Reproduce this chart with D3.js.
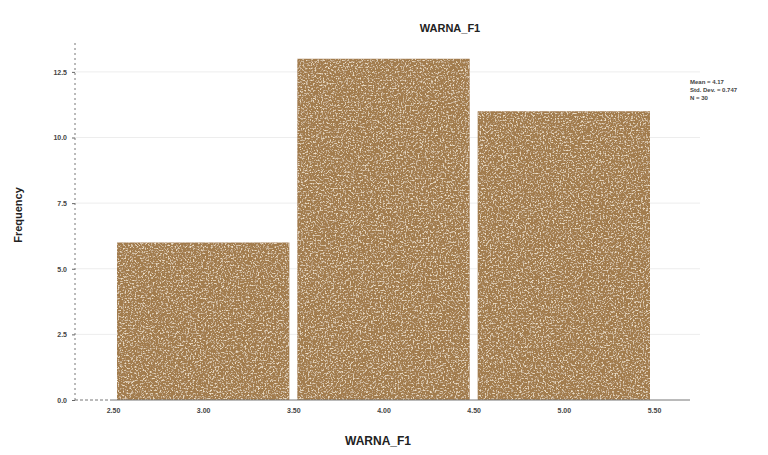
<!DOCTYPE html>
<html>
<head>
<meta charset="utf-8">
<script src="https://cdn.jsdelivr.net/npm/d3@7"></script>
<style>
  html, body { margin: 0; padding: 0; background: #fff; }
  svg { display: block; }
  text { font-family: "Liberation Sans", Arial, sans-serif; }
</style>
</head>
<body>
<svg id="chart" width="768" height="455"></svg>
<script>
// ---- data ----
const binStarts = [2.5, 3.5, 4.5];
const binEnds = [3.5, 4.5, 5.5];
const frequencies = [6, 13, 11];
const xTickValues = [2.5, 3.0, 3.5, 4.0, 4.5, 5.0, 5.5];
const yTickValues = [0, 2.5, 5, 7.5, 10, 12.5];
const legendLines = ["Mean = 4.17", "Std. Dev. = 0.747", "N = 30"];
const chartTitle = "WARNA_F1";
const xTitle = "WARNA_F1";
const yTitle = "Frequency";

const svg = d3.select("#chart");

const x = d3.scaleLinear().domain([2.5, 5.5]).range([113, 654]);
const y = d3.scaleLinear().domain([0, 13.6]).range([400, 43]);
const axisX = 75;

// speckled texture for the bars (style only)
const defs = svg.append("defs");
const f = defs.append("filter").attr("id", "speckle").attr("x", 0).attr("y", 0).attr("width", 1).attr("height", 1);
f.append("feTurbulence").attr("type", "fractalNoise").attr("baseFrequency", "0.6").attr("numOctaves", 2).attr("seed", 5).attr("result", "noise");
f.append("feColorMatrix").attr("in", "noise").attr("type", "matrix")
  .attr("values", "0 0 0 0 0.85  0 0 0 0 0.74  0 0 0 0 0.58  4 0 0 0 -2.05").attr("result", "spots");
f.append("feComposite").attr("in", "spots").attr("in2", "SourceGraphic").attr("operator", "in").attr("result", "sp");
f.append("feMerge").call(m => { m.append("feMergeNode").attr("in", "SourceGraphic"); m.append("feMergeNode").attr("in", "sp"); });

// gridlines
svg.append("g").selectAll("line").data(yTickValues.filter(d => d > 0)).join("line")
  .attr("x1", axisX).attr("x2", 700)
  .attr("y1", d => y(d)).attr("y2", d => y(d))
  .attr("stroke", "#ededed").attr("stroke-width", 1);

// bars
const bins = frequencies.map((v, i) => ({ x0: binStarts[i], x1: binEnds[i], v }));
svg.append("g").selectAll("rect").data(bins).join("rect")
  .attr("x", d => x(d.x0) + 4)
  .attr("width", d => x(d.x1) - x(d.x0) - 8)
  .attr("y", d => y(d.v))
  .attr("height", d => y(0) - y(d.v))
  .attr("fill", "#a27b4e")
  .attr("filter", "url(#speckle)");

// y axis
const yAxis = d3.axisLeft(y).tickValues(yTickValues).tickSize(3).tickFormat(d3.format(".1f"));
const gy = svg.append("g").attr("transform", `translate(${axisX},0)`).call(yAxis);
gy.select(".domain").remove();
gy.append("line").attr("x1", 0).attr("x2", 0).attr("y1", 43).attr("y2", 400)
  .attr("stroke", "#777").attr("stroke-dasharray", "2,3");
gy.selectAll(".tick line").attr("stroke", "#666");
gy.selectAll(".tick text").attr("font-size", 7).attr("font-weight", "bold").attr("fill", "#444").attr("x", -8);

// x axis
const xAxis = d3.axisBottom(x).tickValues(xTickValues).tickSize(0).tickFormat(d3.format(".2f"));
const gx = svg.append("g").attr("transform", "translate(0,400)").call(xAxis);
gx.select(".domain").remove();
gx.append("line").attr("x1", axisX).attr("x2", x(2.5)).attr("y1", 0).attr("y2", 0)
  .attr("stroke", "#777").attr("stroke-dasharray", "3,2");
gx.append("line").attr("x1", x(2.5)).attr("x2", 690).attr("y1", 0).attr("y2", 0)
  .attr("stroke", "#777");
gx.selectAll(".tick text").attr("font-size", 7).attr("font-weight", "bold").attr("fill", "#444").attr("dy", "1.4em");

// titles
svg.append("text").attr("x", 450).attr("y", 32).attr("text-anchor", "middle")
  .attr("font-size", 11).attr("font-weight", "bold").attr("fill", "#222").text(chartTitle);
svg.append("text").attr("x", 378).attr("y", 445).attr("text-anchor", "middle")
  .attr("font-size", 12).attr("font-weight", "bold").attr("fill", "#222").text(xTitle);
svg.append("text").attr("transform", "translate(22,215) rotate(-90)").attr("text-anchor", "middle")
  .attr("font-size", 11).attr("font-weight", "bold").attr("fill", "#222").text(yTitle);

// legend
svg.append("g").selectAll("text").data(legendLines).join("text")
  .attr("x", 690).attr("y", (d, i) => 84 + i * 8)
  .attr("font-size", 6).attr("font-weight", "bold").attr("fill", "#444").text(d => d);
</script>
</body>
</html>
